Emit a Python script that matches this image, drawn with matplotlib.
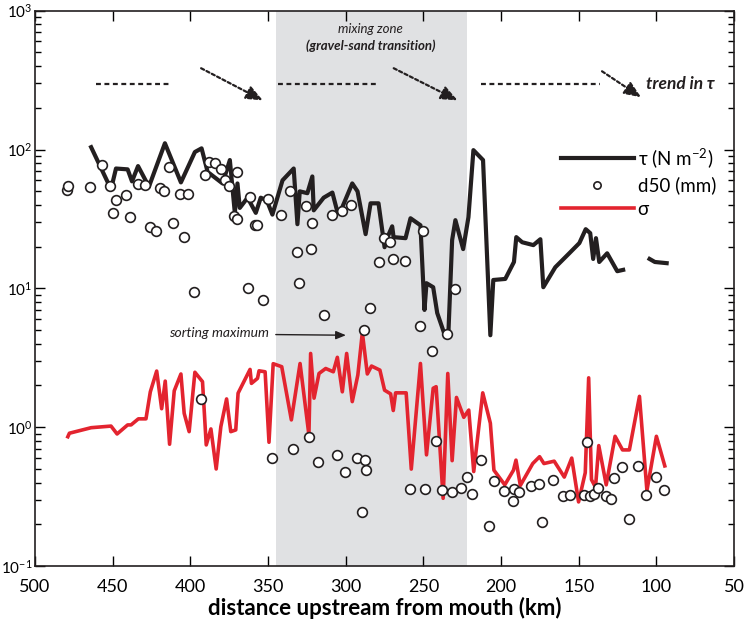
import matplotlib.pyplot as plt
import numpy as np

plt.rcParams['font.family'] = ['Lato', 'DejaVu Sans']
plt.rcParams['mathtext.default'] = 'regular'

# bed shear stress tau (N m-2) along the river, None = no data
tau_km = [463.9, 451.1, 447.9, 440.4, 437.6, 433.7, 426.7, 416.4, 406.1, 397.1,
          392.8, 388.9, 379.3, 374.6, 371.4, 369.7, 368.2, 363.2, 357.9, 354.7,
          350.8, 347.2, 340.7, 333.5, 331.1, 329.6, 324.7, 321.5, 320.6, 314.2,
          308.6, 305.2, 302.2, 295.8, 292.4, 287.2, 284.0, 278.9, 275.0, 273.1,
          270.1, 269.2, 261.5, 258.3, 251.9, 249.3, 248.0, 243.7, 241.1, 235.8,
          233.9, 231.5, 229.4, 224.4, 221.0, 217.8, 211.6, 206.9, 205.0, 197.3,
          191.7, 190.2, 186.4, 179.2, 174.7, 172.8, 165.1, 156.1, 149.6, 145.5,
          142.6, 140.7, 138.9, 136.8, 131.7, 125.2, 121.4, 112.0, 104.4, 101.0, 93.4]
tau = [104, 51.8, 73, 72, 59, 76, 54, 111, 58, 96,
       102, 69, 57, 84, 35, 57, 38, 45, 35, 45,
       43, 34, 60, 73, 29, 50, 48.5, 64, 36.5, 45,
       49, 35, 38.5, 57, 50, 24.6, 41, 41, 19.8, 23.4,
       28, 23.4, 23, 32, 28.5, 7.0, 10.9, 10.2, 6.65, 4.47,
       4.78, 22.3, 31, 19.2, 32.6, 99, 84, 4.6, 11.5, 11.7,
       15.5, 23.4, 21.5, 20.5, 22.6, 10.2, 14.2, 17.9, 21.2, 26.7,
       25, 16.3, 23, 15.5, 17.9, 13.3, 13.6, None, 16.3, 15.5, 15.2]

# median grain size d50 (mm)
d50_km = [479.4, 478.5, 464.6, 457.1, 451.9, 450.0, 447.9, 441.5, 438.9, 433.9,
          429.2, 426.0, 422.4, 419.4, 416.8, 414.0, 411.1, 406.9, 404.4, 401.4,
          397.8, 393.3, 390.7, 387.9, 384.1, 380.4, 377.6, 375.1, 372.2, 370.3,
          370.1, 362.9, 361.6, 358.5, 356.8, 353.2, 350.0, 347.6, 341.8, 336.0,
          333.7, 331.6, 330.1, 325.3, 323.7, 322.1, 321.5, 318.1, 314.0, 309.1,
          305.8, 302.6, 300.5, 296.4, 293.0, 289.8, 288.0, 287.7, 286.8, 284.6,
          278.4, 275.5, 271.6, 269.4, 261.9, 258.5, 252.5, 250.1, 248.8, 244.2,
          242.2, 237.9, 234.8, 231.9, 229.4, 225.5, 221.9, 218.4, 212.7, 207.7,
          204.8, 198.3, 192.2, 191.5, 188.2, 181.0, 175.8, 173.7, 166.4, 160.2,
          155.3, 146.9, 144.5, 142.5, 139.9, 137.5, 132.7, 129.4, 127.3, 122.2,
          117.7, 111.8, 106.6, 100.5, 95.3]
d50 = [51.5, 55, 53.8, 77, 54.5, 34.7, 43.6, 46.9, 32.7, 56.2,
       56, 27.5, 25.8, 52.7, 50.4, 75, 29.6, 48.2, 23.4, 47.6,
       9.4, 1.61, 65.3, 81.5, 80.6, 73, 60.8, 54.5, 33.1, 69,
       31.5, 10, 45.2, 28.4, 28.7, 8.3, 44.4, 0.60, 33.6, 50.4,
       0.695, 18.2, 11.0, 39.5, 0.855, 19.1, 29.4, 0.566, 6.4, 33.6,
       0.633, 36, 0.475, 40.2, 0.60, 0.247, 5.0, 0.58, 0.493, 7.2,
       15.5, 23.1, 21.6, 16.3, 15.8, 0.358, 5.4, 25.9, 0.358, 3.57,
       0.796, 0.354, 4.66, 0.34, 9.9, 0.367, 0.441, 0.331, 0.582, 0.196,
       0.411, 0.348, 0.296, 0.36, 0.344, 0.377, 0.39, 0.208, 0.419, 0.321,
       0.325, 0.327, 0.78, 0.318, 0.33, 0.364, 0.321, 0.304, 0.432, 0.521,
       0.217, 0.53, 0.325, 0.438, 0.354]

# sorting sigma
sig_km = [478.9, 477.9, 463.9, 451.1, 447.2, 440.4, 438.2, 433.5, 428.6, 425.8,
          421.7, 418.5, 416.2, 413.4, 410.4, 406.1, 404.0, 400.8, 397.1, 392.2,
          389.8, 386.8, 383.4, 380.4, 376.7, 374.0, 370.8, 369.3, 361.6, 360.7,
          356.8, 355.8, 351.9, 349.4, 346.7, 341.2, 335.0, 329.4, 323.7, 322.6,
          320.4, 317.2, 312.9, 308.0, 305.4, 302.2, 299.4, 295.8, 292.2, 289.3,
          286.1, 283.4, 278.0, 275.0, 271.1, 269.4, 267.9, 261.1, 257.8, 251.9,
          248.0, 243.7, 241.8, 237.3, 234.3, 231.5, 228.7, 224.0, 220.8, 217.6,
          211.8, 206.9, 204.6, 197.6, 192.0, 190.4, 187.6, 179.6, 175.2, 172.4,
          165.8, 159.3, 154.5, 150.1, 145.8, 143.6, 141.8, 139.2, 137.1, 132.3,
          126.6, 121.8, 117.4, 110.9, 106.1, 100.0, 94.6]
sigma = [0.855, 0.906, 0.993, 1.02, 0.895, 1.04, 1.04, 1.15, 1.15, 1.80,
         2.54, 1.36, 2.15, 0.755, 1.83, 2.42, 1.26, 0.93, 2.49, 2.13,
         0.746, 0.973, 0.501, 1.01, 1.60, 0.93, 0.957, 1.76, 2.61, 2.07,
         2.25, 2.55, 2.51, 0.78, 2.87, 2.73, 1.13, 2.88, 0.88, 3.40,
         1.62, 2.44, 2.65, 2.51, 3.19, 1.80, 3.40, 1.53, 2.38, 4.80,
         2.42, 2.76, 2.58, 1.85, 1.74, 1.32, 1.77, 1.77, 0.50, 2.88,
         0.633, 1.91, 1.96, 0.308, 2.44, 0.575, 1.64, 1.18, 1.33, 0.48,
         1.77, 1.07, 0.491, 0.385, 0.491, 0.58, 0.381, 0.548, 0.614, 0.548,
         0.57, 0.438, 0.60, 0.29, 0.471, 2.27, 0.42, 0.37, 0.738, 0.385,
         0.861, 0.687, 0.687, 1.67, 0.35, 0.861, 0.527]

mix_zone = (345, 222)
dark = '#231f20'
red = '#e3242f'

fig = plt.figure(figsize=(7.46, 6.28), dpi=100)
ax = fig.add_axes([0.047, 0.0985, 0.937, 0.8845])

ax.axvspan(mix_zone[0], mix_zone[1], color='#e0e1e3', lw=0, zorder=0)

tau_arr = np.array([np.nan if v is None else v for v in tau])
ax.plot(tau_km, tau_arr, color=dark, lw=3, label='τ (N m$^{-2}$)', zorder=2)
ax.plot(d50_km, d50, 'o', ms=7, mfc='white', mec=dark, mew=1.2,
        label='d50 (mm)', zorder=4)
ax.plot(sig_km, sigma, color=red, lw=2.6, label='σ', zorder=3)

ax.set_yscale('log')
ax.set_xlim(500, 50)
ax.set_ylim(0.1, 1000)
ax.set_xticks(np.arange(500, 49, -50))
ax.tick_params(which='both', direction='in', top=True, right=True, width=1)
ax.tick_params(which='major', length=7)
ax.tick_params(which='minor', length=4)
ax.tick_params(axis='x', pad=9, labelsize=13)
ax.tick_params(axis='y', pad=2, labelsize=11)
for s in ax.spines.values():
    s.set_linewidth(1.2)
    s.set_color(dark)

ax.set_xlabel('distance upstream from mouth (km)', fontsize=16,
              fontweight='bold', labelpad=2)

# trend in tau annotations
dash_y = 295
for x0, x1 in [(460.7, 413.8), (343.7, 279.5), (213.0, 136.0)]:
    ax.plot([x0, x1], [dash_y, dash_y], color=dark, lw=1.6,
            ls=(0, (2.2, 1.6)), zorder=5)
for (x0, y0), (x1, y1) in [((393.1, 385), (353.4, 226)),
                           ((269.1, 385), (228.0, 226)),
                           ((135.0, 366), (109.9, 238))]:
    ax.annotate('', xy=(x1, y1), xytext=(x0, y0),
                arrowprops=dict(arrowstyle='-|>,head_length=1.0,head_width=0.42',
                                ls=(0, (1.5, 1.2)), lw=1.6, color=dark,
                                shrinkA=0, shrinkB=0), zorder=5)
ax.text(107, 295, 'trend in τ', fontsize=12.5, fontweight='bold',
        style='italic', ha='left', va='center', color=dark)

ax.text(284, 740, 'mixing zone', fontsize=9.5, style='italic',
        ha='center', va='center', color=dark)
ax.text(284, 555, '(gravel-sand transition)', fontsize=9.5, style='italic',
        fontweight='bold', ha='center', va='center', color=dark)

ax.annotate('sorting maximum', xy=(299, 4.6), xytext=(349.5, 4.75),
            fontsize=10, style='italic', ha='right', va='center', color=dark,
            arrowprops=dict(arrowstyle='-|>,head_length=0.6,head_width=0.25',
                            lw=1, color=dark, relpos=(1, 0.4),
                            shrinkA=3, shrinkB=1))

ax.legend(loc='upper left', bbox_to_anchor=(0.728, 0.787), frameon=False,
          fontsize=13.5, handlelength=3.9, handletextpad=0.2,
          labelspacing=0.35, markerscale=0.75)

fig.savefig('out.png', dpi=100)
